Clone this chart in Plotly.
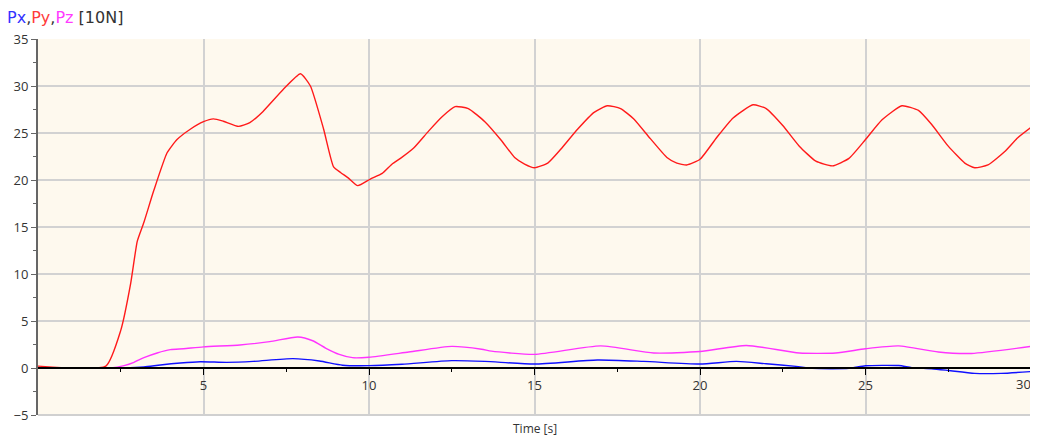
import plotly.graph_objects as go

# Time samples (s) and values [10N]
py_t = [0, 2.05, 2.5, 2.8, 3.0, 3.2, 3.5, 3.9, 4.2, 4.6, 5.0, 5.3, 5.6, 6.06, 6.4, 6.8, 7.4, 7.93, 8.23,
        8.63, 8.93, 9.14, 9.38, 9.66, 10.04, 10.4, 10.7, 10.95, 11.35, 11.8, 12.2, 12.6, 13.0, 13.5,
        14.0, 14.4, 14.7, 15.0, 15.4, 15.8, 16.3, 16.8, 17.2, 17.6, 18.0, 18.5, 19.0, 19.3, 19.6, 20.0,
        20.5, 21.0, 21.6, 22.0, 22.5, 23.0, 23.5, 24.0, 24.5, 25.0, 25.5, 26.1, 26.6, 27.0, 27.5, 28.0,
        28.3, 28.7, 29.2, 29.6, 30.0]
py_v = [0.2, 0.2, 4.0, 9.0, 13.5, 15.5, 18.9, 22.9, 24.3, 25.4, 26.2, 26.5, 26.25, 25.7, 26.1, 27.3, 29.6,
        31.3, 30.0, 25.4, 21.4, 20.8, 20.2, 19.4, 20.1, 20.7, 21.7, 22.3, 23.4, 25.2, 26.7, 27.8,
        27.6, 26.2, 24.2, 22.4, 21.7, 21.3, 21.8, 23.3, 25.4, 27.2, 27.9, 27.6, 26.5, 24.4, 22.4, 21.8,
        21.6, 22.2, 24.5, 26.6, 28.0, 27.6, 25.8, 23.6, 22.0, 21.5, 22.3, 24.3, 26.4, 27.9, 27.4, 25.9,
        23.6, 21.8, 21.3, 21.6, 23.0, 24.5, 25.6]

pz_t = [0, 2.2, 2.6, 2.9, 3.2, 3.6, 4.0, 4.4, 5.0, 6.1, 7.0, 7.85, 8.3, 8.7, 9.1, 9.5, 10.0, 11.2, 12.5,
        13.4, 13.7, 15.0, 17.0, 18.6, 20.0, 21.4, 23.0, 24.1, 25.0, 26.0, 27.2, 28.2, 30.0]
pz_v = [0.0, 0.0, 0.25, 0.6, 1.1, 1.6, 1.95, 2.05, 2.25, 2.45, 2.8, 3.3, 2.9, 2.1, 1.45, 1.1, 1.15, 1.7,
        2.3, 2.0, 1.8, 1.45, 2.35, 1.6, 1.75, 2.4, 1.6, 1.6, 2.05, 2.35, 1.7, 1.55, 2.3]

px_t = [0, 2.6, 3.2, 3.7, 4.3, 4.9, 5.7, 6.5, 7.7, 8.5, 9.2, 10.0, 11.0, 12.5, 13.5, 15.0, 16.9, 18.3,
        20.0, 21.1, 22.0, 22.9, 23.4, 24.5, 25.0, 26.0, 26.4, 27.0, 27.5, 28.3, 29.1, 30.0]
px_v = [0.0, 0.0, 0.1, 0.32, 0.53, 0.67, 0.6, 0.7, 1.0, 0.75, 0.3, 0.25, 0.4, 0.78, 0.7, 0.42, 0.85, 0.7,
        0.42, 0.7, 0.45, 0.17, -0.04, -0.04, 0.24, 0.26, 0.04, -0.08, -0.26, -0.57, -0.57, -0.38]

x_ticks = [5, 10, 15, 20, 25, 30]
x_labels = ["5", "10", "15", "20", "25", ""]   # last label drawn separately (right-aligned at the edge)
x_last = 30
x_minor = [2.5, 7.5, 12.5, 17.5, 22.5, 27.5]
y_ticks = [-5, 0, 5, 10, 15, 20, 25, 30, 35]
y_minor = [-2.5, 2.5, 7.5, 12.5, 17.5, 22.5, 27.5, 32.5]

FONT = "Open Sans"

fig = go.Figure()
fig.add_trace(go.Scatter(x=pz_t, y=pz_v, mode="lines", line=dict(color="#FF33FF", width=1.4, shape="spline", smoothing=0.6), name="Pz"))
fig.add_trace(go.Scatter(x=px_t, y=px_v, mode="lines", line=dict(color="#1010FF", width=1.4, shape="spline", smoothing=0.6), name="Px"))
fig.add_trace(go.Scatter(x=py_t, y=py_v, mode="lines", line=dict(color="#FF1A1A", width=1.4, shape="spline", smoothing=0.5), name="Py"))

# page body has an 8px margin, so the figure is sized/positioned to compensate
fig.update_layout(
    width=1030, height=431,
    margin=dict(l=30, r=7, t=31, b=24),
    paper_bgcolor="white",
    plot_bgcolor="#FEF9EE",
    showlegend=False,
    font=dict(family=FONT, size=12, color="#333333"),
    xaxis=dict(
        range=[0, 30], tickvals=x_ticks, ticktext=x_labels,
        showgrid=True, gridcolor="#D2D2D2", gridwidth=1.5,
        zeroline=False, automargin=False,
        anchor="free", position=0.125,
        showline=True, linecolor="black", linewidth=1.5,
        ticks="outside", ticklen=6, tickcolor="black", tickwidth=1,
        minor=dict(tickvals=x_minor, ticks="outside", ticklen=3, tickcolor="black", showgrid=False),
        tickfont=dict(size=13, color="#333333"),
        ticklabeloverflow="allow",
        fixedrange=True,
    ),
    yaxis=dict(
        range=[-5, 35], tickvals=y_ticks,
        showgrid=True, gridcolor="#D2D2D2", gridwidth=1.5,
        zeroline=False, automargin=False,
        showline=True, linecolor="#666666", linewidth=2,
        ticks="outside", ticklen=5, tickcolor="#666666", tickwidth=1,
        minor=dict(tickvals=y_minor, ticks="outside", ticklen=3, tickcolor="#666666", showgrid=False),
        tickfont=dict(size=13, color="#333333"),
        ticklabeloverflow="allow",
        fixedrange=True,
    ),
    shapes=[
        dict(type="line", xref="paper", yref="paper", x0=0, x1=1, y0=0, y1=0,
             line=dict(color="#D0D0D0", width=2)),
        dict(type="line", xref="paper", yref="paper", x0=1, x1=1, y0=0, y1=1,
             line=dict(color="#D0D0D0", width=2)),
    ],
    annotations=[
        dict(xref="x", yref="y", x=x_last, y=0, xanchor="right", xshift=2, yanchor="top", yshift=-5,
             text=str(x_last), showarrow=False, font=dict(size=13, color="#333333")),
        dict(xref="paper", yref="paper", x=0.5, y=0, yshift=-13, xanchor="center", yanchor="middle",
             text="Time [s]", showarrow=False, font=dict(size=12, color="#333333")),
        dict(xref="paper", yref="paper", x=0, y=1, xshift=-31, yshift=31, xanchor="left", yanchor="top",
             showarrow=False, borderpad=0, borderwidth=0,
             font=dict(family="DejaVu Sans", size=16, color="#333333"),
             text="<span style='color:#3333FF'>Px</span>,<span style='color:#FF3B3B'>Py</span>,"
                  "<span style='color:#FF3BFF'>Pz</span> [10N]"),
    ],
)

fig.write_html("out.html")
